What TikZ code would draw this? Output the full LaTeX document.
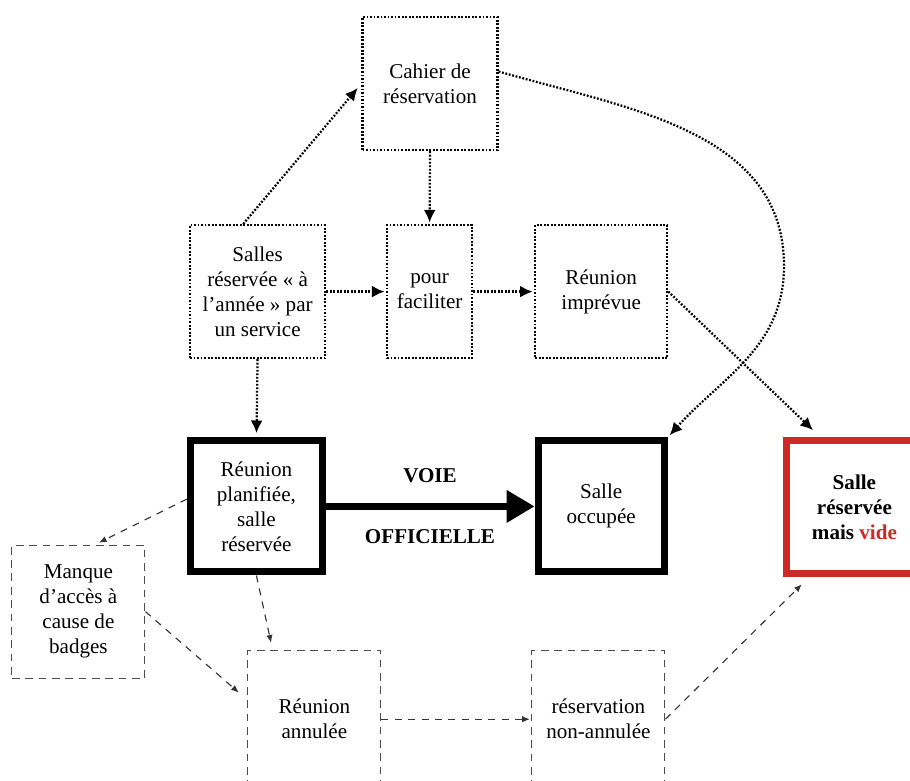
\documentclass[tikz,border=0pt]{standalone}
\usepackage{fontspec}
\setmainfont{Liberation Serif}
\usepackage{xcolor}
\usepackage{tikz}
\usetikzlibrary{arrows.meta, positioning, calc}
\definecolor{videred}{RGB}{204,41,39}

\begin{document}
\begin{tikzpicture}[
    font=\fontsize{15}{17.8}\selectfont,
    dotbox/.style={draw=black, line width=1.6pt, dash pattern=on 1.3pt off 1.2pt, minimum width=3.375cm, minimum height=3.325cm, align=center, inner sep=2pt},
    dashbox/.style={draw=black!70, line width=0.8pt, dash pattern=on 5.5pt off 4pt, minimum width=3.325cm, minimum height=3.45cm, align=center, inner sep=2pt},
    mainbox/.style={draw=black, line width=5pt, minimum width=3.3cm, minimum height=3.275cm, align=center},
    videbox/.style={draw=videred, line width=5.3pt, minimum width=3.4cm, minimum height=3.325cm, align=center, font=\fontsize{15}{17.8}\selectfont\bfseries},
    dotarrow/.style={-{Latex[length=9pt, width=8.5pt]}, line width=1.6pt, dash pattern=on 1.3pt off 1.2pt},
    dasharrow/.style={-{Latex[length=5.5pt, width=4.5pt]}, line width=0.8pt, draw=black!80, dash pattern=on 5pt off 4.5pt},
    mainarrow/.style={-{Triangle[length=20pt, width=22pt]}, line width=5.3pt},
    voielabel/.style={font=\fontsize{15}{17.8}\selectfont\bfseries}
]
\useasboundingbox (0,0) rectangle (22.75,-19.5);
\clip (0,0) rectangle (22.75,-19.5);

% === TOP ROW ===
\node[dotbox] (cahier) at (10.75, -2.09) {Cahier de\\réservation};

% === SECOND ROW ===
\node[dotbox] (salles) at (6.44, -7.29) {Salles\\réservée « à\\l’année » par\\un service};
\node[dotbox, minimum width=2.125cm] (pour) at (10.74, -7.29) {pour\\faciliter};
\node[dotbox, minimum width=3.3cm] (imprevue) at (15.03, -7.29) {Réunion\\imprévue};

% === MAIN ROW ===
\node[mainbox] (planif) at (6.41, -12.66) {Réunion\\planifiée,\\salle\\réservée};
\node[mainbox, minimum width=3.15cm] (occupee) at (15.03, -12.66) {Salle\\occupée};
\node[videbox] (vide) at (21.36, -12.68) {Salle\\réservée\\mais \textcolor{videred}{vide}};

% === BOTTOM ROW ===
\node[dashbox, minimum height=3.325cm] (manque) at (1.96, -15.29) {Manque\\d’accès à\\cause de\\badges};
\node[dashbox] (annulee) at (7.86, -17.98) {Réunion\\annulée};
\node[dashbox] (nonannulee) at (14.96, -17.98) {réservation\\non-annulée};

% === VOIE OFFICIELLE ===
\draw[mainarrow] (planif.east) -- (occupee.west);
\node[voielabel] (voie) at (10.75, -11.88) {VOIE};
\node[voielabel] (officielle) at (10.75, -13.42) {OFFICIELLE};

% === DOTTED ARROWS ===
\draw[dotarrow, shorten >=4pt] (salles.102) -- (cahier.west);
\draw[dotarrow, shorten >=1pt] (cahier.south) -- (pour.north);
\draw[dotarrow, shorten >=1pt] (salles.east) -- (pour.west);
\draw[dotarrow, shorten >=1pt] (pour.east) -- (imprevue.west);
\draw[dotarrow, shorten >=3pt] (salles.south) -- (planif.north);
\draw[dotarrow, shorten >=7pt] (imprevue.east) -- (vide.116);
\coordinate (bend) at (19.6, -6.65);
\draw[dotarrow, shorten >=2pt] (cahier.10) to[out=-16, in=90] (bend) to[out=-90, in=48] (occupee.north east);

% === DASHED ARROWS ===
\draw[dasharrow, shorten >=3pt] (planif.174) -- (manque.76);
\draw[dasharrow, shorten >=5pt] (planif.south) -- (annulee.121);
\draw[dasharrow, shorten >=8pt] (manque.east) -- (annulee.164);
\draw[dasharrow, shorten >=1pt] (annulee.east) -- (nonannulee.west);
\draw[dasharrow, shorten >=7pt] (nonannulee.east) -- (vide.237);

\end{tikzpicture}
\end{document}
